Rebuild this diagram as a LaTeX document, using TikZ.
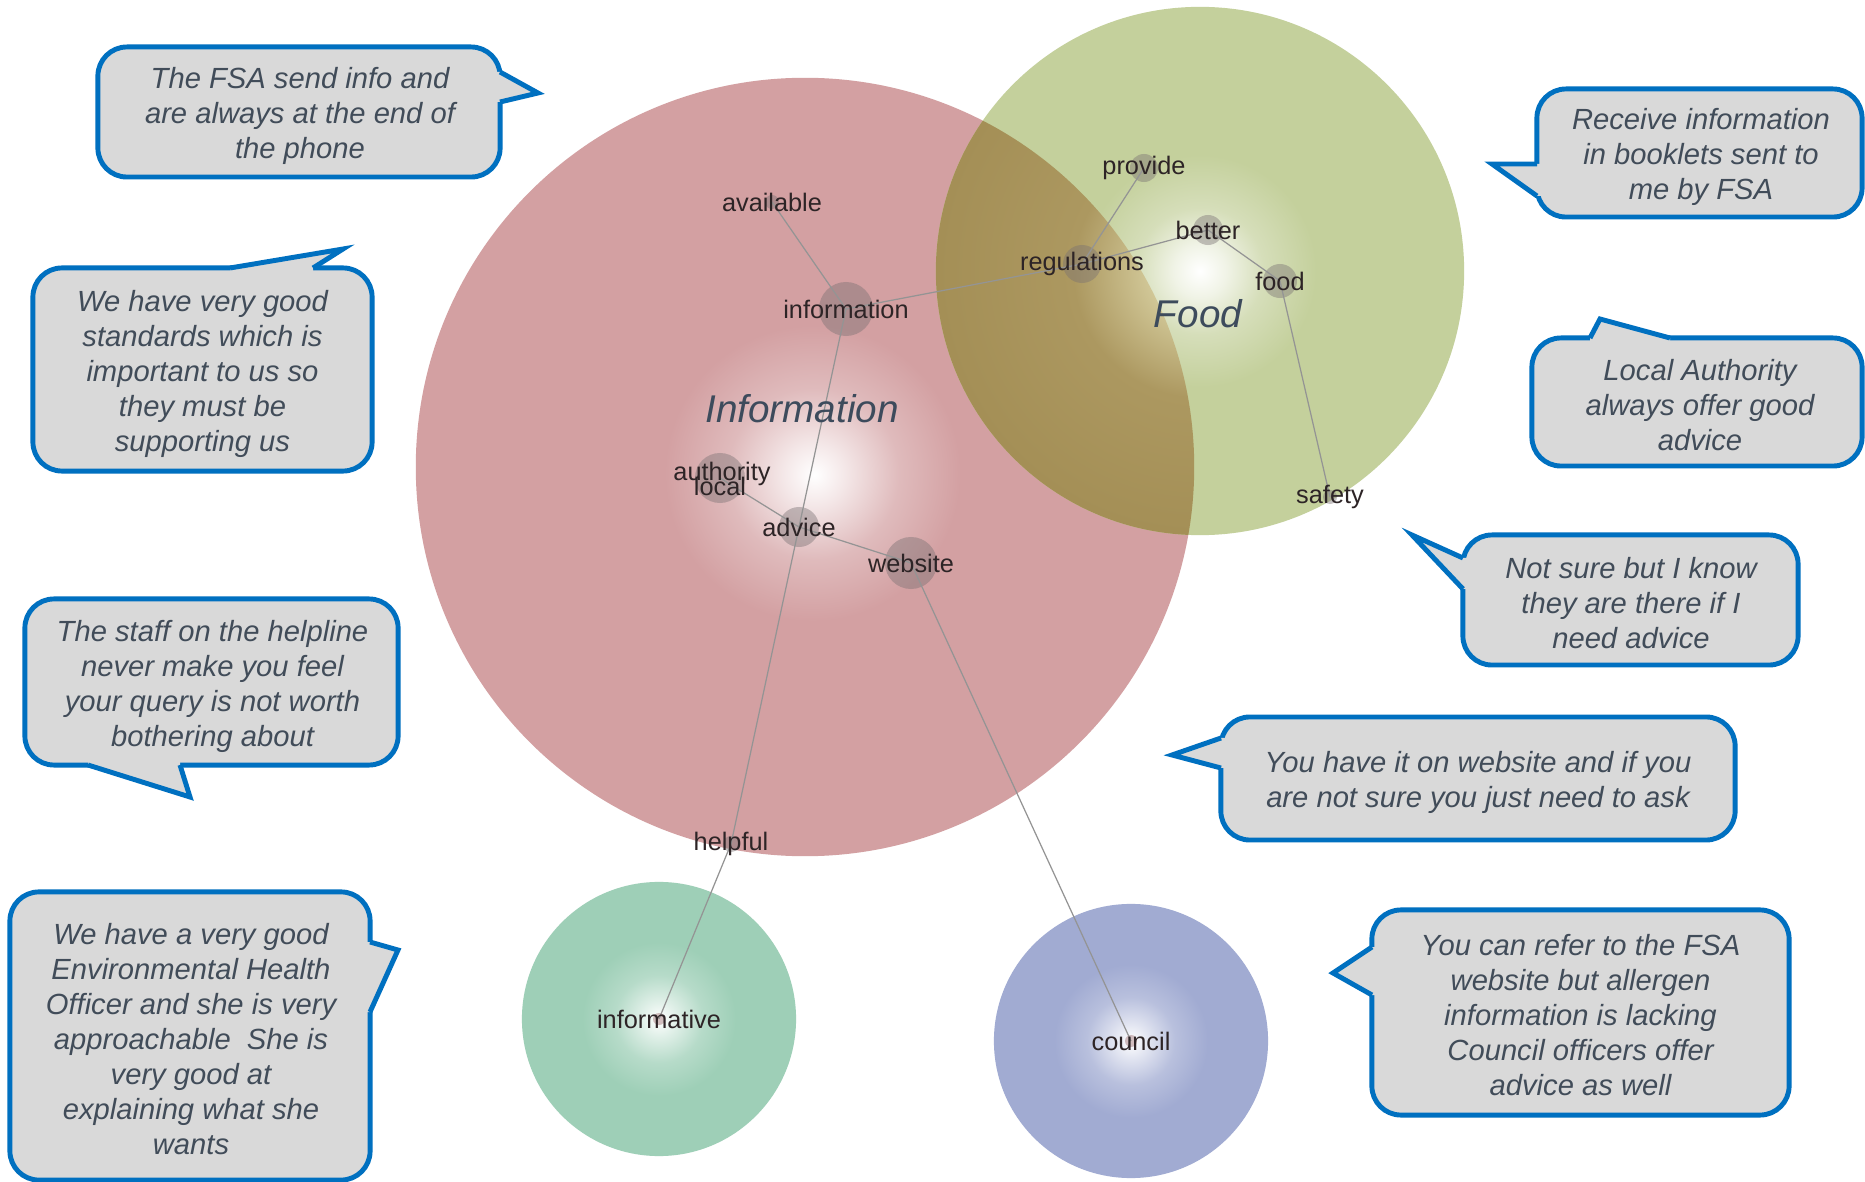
\documentclass[tikz,border=0pt]{standalone}
\usepackage{fontspec}
\setmainfont{Liberation Sans}
\definecolor{bblue}{HTML}{0070C0}
\definecolor{bfill}{HTML}{D9D9D9}
\definecolor{btext}{HTML}{414C59}
\definecolor{bigtext}{HTML}{3D4B5C}
\definecolor{wordtext}{RGB}{45,36,38}
\definecolor{redbase}{RGB}{211,160,162}
\definecolor{greenbase}{RGB}{196,208,156}
\definecolor{olivebase}{RGB}{172,152,96}
\definecolor{olivedark}{RGB}{164,143,86}
\definecolor{olivelight}{RGB}{208,198,150}
\definecolor{tealbase}{RGB}{158,207,183}
\definecolor{bluebase}{RGB}{161,171,210}
\definecolor{disc}{RGB}{120,112,114}
\colorlet{redA}{redbase!25!white}
\colorlet{redB}{redbase!72!white}
\colorlet{greenA}{greenbase!25!white}
\colorlet{greenB}{greenbase!70!white}
\colorlet{tealA}{tealbase!30!white}
\colorlet{tealB}{tealbase!75!white}
\colorlet{blueA}{bluebase!30!white}
\colorlet{blueB}{bluebase!75!white}
\pgfdeclareradialshading{redshade}{\pgfpoint{0.6bp}{-0.5bp}}{color(0bp)=(white); color(2bp)=(redA); color(5.5bp)=(redB); color(9.5bp)=(redbase); color(50bp)=(redbase)}
\pgfdeclareradialshading{greenshade}{\pgfpoint{0bp}{0bp}}{color(0bp)=(white); color(2.5bp)=(greenA); color(6bp)=(greenB); color(11bp)=(greenbase); color(50bp)=(greenbase)}
\pgfdeclareradialshading{oliveshade}{\pgfpoint{0bp}{0bp}}{color(0bp)=(white); color(5bp)=(olivelight); color(12bp)=(olivebase); color(25bp)=(olivedark); color(50bp)=(olivedark)}
\pgfdeclareradialshading{tealshade}{\pgfpoint{0bp}{0bp}}{color(0bp)=(white); color(3bp)=(tealA); color(8bp)=(tealB); color(14bp)=(tealbase); color(50bp)=(tealbase)}
\pgfdeclareradialshading{blueshade}{\pgfpoint{0bp}{0bp}}{color(0bp)=(white); color(3bp)=(blueA); color(8bp)=(blueB); color(14bp)=(bluebase); color(50bp)=(bluebase)}
\begin{document}
\begin{tikzpicture}[x=0.01cm,y=-0.01cm,
  bubble/.style={draw=bblue,line width=1.4pt,fill=bfill,rounded corners=0.29cm,inner sep=0pt},
  bubbletext/.style={align=center,text=btext,inner sep=0pt,
    font=\fontsize{8.3}{9.96}\selectfont\itshape},
  ptrfill/.style={fill=bfill},
  ptrline/.style={draw=bblue,line width=1.4pt,line join=miter},
  word/.style={font=\fontsize{7.2}{8}\selectfont,text=wordtext,inner sep=0pt},
  biglabel/.style={font=\fontsize{11}{13}\selectfont\itshape,text=bigtext,inner sep=0pt},
  edge/.style={draw=black!42,line width=0.35pt},
  nodedisc/.style={fill=disc,fill opacity=0.42}]
\useasboundingbox (0,0) rectangle (1865,1182);
\fill[white] (0,0) rectangle (1865,1182);
% ---------- cluster circles ----------
\coordinate (cRed) at (805,467);
\coordinate (cGreen) at (1200,271);
\coordinate (cTeal) at (659,1019);
\coordinate (cBlue) at (1131,1041);
\shade[shading=redshade] (cRed) circle (3.89cm);
\shade[shading=greenshade] (cGreen) circle (2.64cm);
\begin{scope}
  \clip (cRed) circle (3.89cm);
  \shade[shading=oliveshade] (cGreen) circle (2.64cm);
\end{scope}
\shade[shading=tealshade] (cTeal) circle (1.37cm);
\shade[shading=blueshade] (cBlue) circle (1.37cm);
% ---------- word positions ----------
\coordinate (p-available) at (772,202);
\coordinate (p-information) at (846,309);
\coordinate (p-regulations) at (1082,264);
\coordinate (p-provide) at (1144,168);
\coordinate (p-better) at (1208,230);
\coordinate (p-food) at (1280,281);
\coordinate (p-safety) at (1330,497);
\coordinate (p-authority) at (720,478);
\coordinate (p-advice) at (799,527);
\coordinate (p-website) at (911,563);
\coordinate (p-helpful) at (731,844);
\coordinate (p-informative) at (659,1019);
\coordinate (p-council) at (1131,1041);
% discs
\fill[nodedisc] (p-information) circle (0.27cm);
\fill[nodedisc] (p-regulations) circle (0.19cm);
\fill[nodedisc] (p-provide) circle (0.14cm);
\fill[nodedisc] (p-better) circle (0.15cm);
\fill[nodedisc] (p-food) circle (0.17cm);
\fill[nodedisc] (p-authority) circle (0.25cm);
\fill[nodedisc] (p-advice) circle (0.2cm);
\fill[nodedisc] (p-website) circle (0.26cm);
\fill[nodedisc] (p-helpful) circle (0.08cm);
\fill[nodedisc] (p-available) circle (0.07cm);
\fill[nodedisc] (p-safety) circle (0.07cm);
\fill[redbase!80!black,opacity=0.5] (p-informative) circle (0.06cm);
\fill[redbase!80!black,opacity=0.5] (p-council) circle (0.06cm);
% edges
\draw[edge] (p-available) -- (p-information);
\draw[edge] (p-information) -- (p-regulations);
\draw[edge] (p-regulations) -- (p-provide);
\draw[edge] (p-regulations) -- (p-better);
\draw[edge] (p-better) -- (p-food);
\draw[edge] (p-food) -- (p-safety);
\draw[edge] (p-information) -- (p-advice);
\draw[edge] (p-authority) -- (p-advice);
\draw[edge] (p-advice) -- (p-website);
\draw[edge] (p-advice) -- (p-helpful);
\draw[edge] (p-helpful) -- (p-informative);
\draw[edge] (p-website) -- (p-council);
% word labels
\node[word] (available) at (p-available) {available};
\node[word] (information) at (p-information) {information};
\node[word] (regulations) at (p-regulations) {regulations};
\node[word] (provide) at (p-provide) {provide};
\node[word] (better) at (p-better) {better};
\node[word] (food) at (p-food) {food};
\node[word] (safety) at (p-safety) {safety};
\node[word] (authority) at (722,474) {authority};
\node[word] (local) at (720,486) {local};
\node[word] (advice) at (p-advice) {advice};
\node[word] (website) at (p-website) {website};
\node[word] (helpful) at (p-helpful) {helpful};
\node[word] (informative) at (p-informative) {informative};
\node[word] (council) at (p-council) {council};
\node[biglabel] (InfoLabel) at (802,409) {Information};
\node[biglabel] (FoodLabel) at (1198,314) {Food};
% ---------- speech bubbles ----------
% b1
\node[bubble,minimum width=4.02cm,minimum height=1.30cm] (b1) at (299,112) {};
\coordinate (t1) at (538,93);
\fill[ptrfill] (494,72) -- (500,72) -- (t1) -- (500,102) -- (494,102) -- cycle;
\draw[ptrline] (500,72) -- (t1) -- (500,102);
\node[bubbletext] (b1text) at (300,116)
  {The FSA send info and\\are always at the end of\\the phone};
% b2
\node[bubble,minimum width=3.39cm,minimum height=2.03cm] (b2) at (202.5,369.5) {};
\coordinate (t2) at (343,249);
\fill[ptrfill] (230,274) -- (230,268) -- (t2) -- (313,268) -- (313,274) -- cycle;
\draw[ptrline] (230,268) -- (t2) -- (313,268);
\node[bubbletext] (b2text) at (202.5,374)
  {We have very good\\standards which is\\important to us so\\they must be\\supporting us};
% b3
\node[bubble,minimum width=3.73cm,minimum height=1.66cm] (b3) at (211.5,682) {};
\coordinate (t3) at (190,797);
\fill[ptrfill] (88,759) -- (88,765) -- (t3) -- (180,765) -- (180,759) -- cycle;
\draw[ptrline] (88,765) -- (t3) -- (180,765);
\node[bubbletext] (b3text) at (212.5,686)
  {The staff on the helpline\\never make you feel\\your query is not worth\\bothering about};
% b4
\node[bubble,minimum width=3.60cm,minimum height=2.88cm] (b4) at (190,1036) {};
\coordinate (t4) at (398,950);
\fill[ptrfill] (364,942) -- (370,942) -- (t4) -- (370,1012) -- (364,1012) -- cycle;
\draw[ptrline] (370,942) -- (t4) -- (370,1012);
\node[bubbletext] (b4text) at (191,1039)
  {We have a very good\\Environmental Health\\Officer and she is very\\approachable\ \ She is\\very good at\\explaining what she\\wants};
% b5
\node[bubble,minimum width=3.25cm,minimum height=1.28cm] (b5) at (1699.5,153) {};
\coordinate (t5) at (1492,164);
\fill[ptrfill] (1543,164) -- (1537,164) -- (t5) -- (1537,196) -- (1543,196) -- cycle;
\draw[ptrline] (1537,164) -- (t5) -- (1537,196);
\node[bubbletext] (b5text) at (1701,157)
  {Receive information\\in booklets sent to\\me by FSA};
% b6
\node[bubble,minimum width=3.30cm,minimum height=1.28cm] (b6) at (1697,402) {};
\coordinate (t6) at (1600,319);
\fill[ptrfill] (1590,344) -- (1590,338) -- (t6) -- (1670,338) -- (1670,344) -- cycle;
\draw[ptrline] (1590,338) -- (t6) -- (1670,338);
\node[bubbletext] (b6text) at (1700,405)
  {Local Authority\\always offer good\\advice};
% b7
\node[bubble,minimum width=3.35cm,minimum height=1.30cm] (b7) at (1630.5,600) {};
\coordinate (t7) at (1412,535);
\fill[ptrfill] (1469,558) -- (1463,558) -- (t7) -- (1463,589) -- (1469,589) -- cycle;
\draw[ptrline] (1463,558) -- (t7) -- (1463,589);
\node[bubbletext] (b7text) at (1631,603)
  {Not sure but I know\\they are there if I\\need advice};
% b8
\node[bubble,minimum width=5.14cm,minimum height=1.23cm] (b8) at (1478,778.5) {};
\coordinate (t8) at (1172,755);
\fill[ptrfill] (1227,738) -- (1221,738) -- (t8) -- (1221,768) -- (1227,768) -- cycle;
\draw[ptrline] (1221,738) -- (t8) -- (1221,768);
\node[bubbletext] (b8text) at (1478,782)
  {You have it on website and if you\\are not sure you just need to ask};
% b9
\node[bubble,minimum width=4.17cm,minimum height=2.05cm] (b9) at (1580.5,1012.5) {};
\coordinate (t9) at (1333,973);
\fill[ptrfill] (1378,947) -- (1372,947) -- (t9) -- (1372,995) -- (1378,995) -- cycle;
\draw[ptrline] (1372,947) -- (t9) -- (1372,995);
\node[bubbletext] (b9text) at (1580.5,1015)
  {You can refer to the FSA\\website but allergen\\information is lacking\\Council officers offer\\advice as well};
\end{tikzpicture}
\end{document}
